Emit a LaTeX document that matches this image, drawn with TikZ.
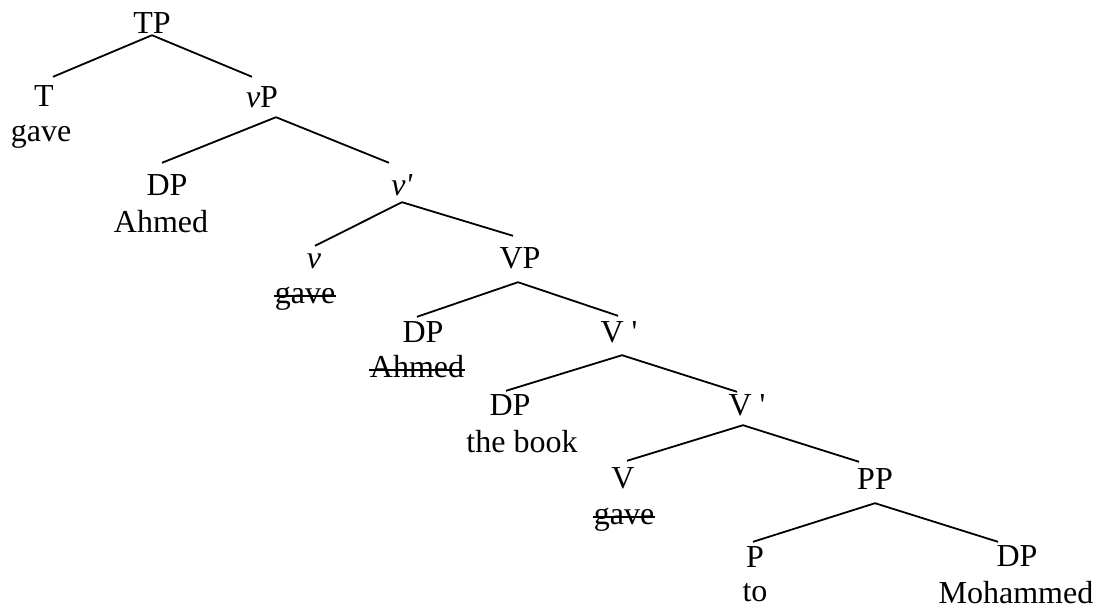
\documentclass[tikz,border=0pt]{standalone}
\usepackage{fontspec}
\setmainfont{Liberation Serif}
\begin{document}
\begin{tikzpicture}[x=1pt,y=-1pt,
  every node/.style={font=\fontsize{32}{37}\selectfont, inner sep=0pt, anchor=base},
  cat/.style={text height=22pt, text depth=0pt},
  branch/.style={line width=1.8pt},
  strike/.style={line width=1.6pt}]
\useasboundingbox (0,0) rectangle (1102,608);

% category labels and the words under them
\node[cat] (TP) at (152,33) {TP};
\node[cat] (T) at (44,106) {T};
\node (gave1) at (41,141) {gave};
\node[cat] (vP) at (262,107) {\textit{v}P};
\node[cat] (DP1) at (167,195) {DP};
\node (ahmed1) at (161,232) {Ahmed};
\node[cat] (vbar) at (402,195) {\textit{v\textquotesingle}};
\node[cat] (v) at (314,268) {\textit{v}};
\node (gave2) at (305,303) {gave};
\node[cat] (VP) at (520,268) {VP};
\node[cat] (DP2) at (423,342) {DP};
\node (ahmed2) at (417,377) {Ahmed};
\node[cat] (Vbar1) at (619,342) {V\ \textquotesingle};
\node[cat] (DP3) at (510,415) {DP};
\node (book) at (522,452) {the book};
\node[cat] (Vbar2) at (747,415) {V\ \textquotesingle};
\node[cat] (V) at (623,488) {V};
\node (gave3) at (624,524) {gave};
\node[cat] (PP) at (875,489) {PP};
\node[cat] (P) at (755,567) {P};
\node (to) at (755,601) {to};
\node[cat] (DP4) at (1017,566) {DP};
\node (moh) at (1016,603) {Mohammed};

% branches
\draw[branch] ([shift={(0,2)}]TP.south) -- ([shift={(9,-7)}]T.north);
\draw[branch] ([shift={(0,2)}]TP.south) -- ([shift={(-10,-8)}]vP.north);
\draw[branch] ([shift={(14,10)}]vP.south) -- ([shift={(-5,-10)}]DP1.north);
\draw[branch] ([shift={(14,10)}]vP.south) -- ([shift={(-13,-10)}]vbar.north);
\draw[branch] ([shift={(0,7)}]vbar.south) -- ([shift={(1,0)}]v.north);
\draw[branch] ([shift={(0,7)}]vbar.south) -- ([shift={(-7,-10)}]VP.north);
\draw[branch] ([shift={(-2,14)}]VP.south) -- ([shift={(-6,-3)}]DP2.north);
\draw[branch] ([shift={(-2,14)}]VP.south) -- ([shift={(-1,-4)}]Vbar1.north);
\draw[branch] ([shift={(3,13)}]Vbar1.south) -- ([shift={(-4,-2)}]DP3.north);
\draw[branch] ([shift={(3,13)}]Vbar1.south) -- ([shift={(-10,-1)}]Vbar2.north);
\draw[branch] ([shift={(-4,10)}]Vbar2.south) -- ([shift={(4,-5)}]V.north);
\draw[branch] ([shift={(-4,10)}]Vbar2.south) -- ([shift={(-16,-5)}]PP.north);
\draw[branch] ([shift={(0,14)}]PP.south) -- ([shift={(-2,-3)}]P.north);
\draw[branch] ([shift={(0,14)}]PP.south) -- ([shift={(-19,-2)}]DP4.north);

% struck-out copies
\foreach \w in {gave2,ahmed2,gave3}
  \draw[strike] ([shift={(-1,-7)}]\w.base west) -- ([shift={(1,-7)}]\w.base east);
\end{tikzpicture}
\end{document}
